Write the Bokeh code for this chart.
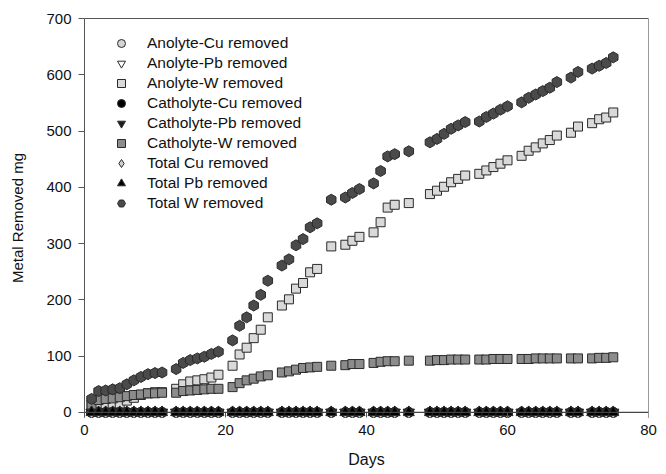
import math
from bokeh.plotting import figure
from bokeh.models import (ColumnDataSource, Range1d, FixedTicker, LinearAxis, Span,
                          Legend, LegendItem)
from bokeh.embed import file_html
from bokeh.resources import INLINE

# ---------------- data ----------------
days = [1, 2, 3, 4, 5, 6, 7, 8, 9, 10, 11,
        13, 14, 15, 16, 17, 18, 19,
        21, 22, 23, 24, 25, 26,
        28, 29, 30, 31, 32, 33,
        35,
        37, 38, 39,
        41, 42, 43, 44,
        46,
        49, 50, 51, 52, 53, 54,
        56, 57, 58, 59, 60,
        62, 63, 64, 65, 66, 67,
        69, 70,
        72, 73, 74, 75]

anolyte_w = [10, 16, 15, 16, 16, 21, 26, 31, 34, 36, 36,
             42, 50, 55, 57, 59, 62, 67,
             83, 103, 115, 132, 147, 169,
             190, 201, 220, 230, 249, 255,
             295,
             298, 305, 312,
             320, 338, 364, 369,
             372,
             388, 394, 401, 409, 415, 421,
             424, 430, 436, 442, 448,
             456, 465, 471, 478, 484, 492,
             497, 508,
             514, 521, 524, 533]

catholyte_w = [14, 22, 24, 25, 27, 29, 31, 32, 34, 34, 35,
               35, 38, 39, 40, 41, 42, 42,
               45, 52, 57, 60, 64, 66,
               71, 73, 76, 79, 80, 81,
               83,
               84, 86, 86,
               88, 90, 91, 91,
               92,
               92, 93, 93, 94, 94, 94,
               94, 94, 95, 95, 95,
               95, 95, 96, 96, 96, 96,
               96, 96,
               96, 97, 97, 98]

total_w = [24, 38, 39, 41, 43, 50, 57, 63, 68, 70, 71,
           77, 88, 93, 96, 99, 104, 108,
           128, 154, 169, 190, 209, 234,
           261, 272, 297, 308, 329, 336,
           378,
           382, 390, 397,
           407, 429, 455, 459,
           464,
           480, 486, 495, 504, 510, 516,
           517, 525, 531, 538, 544,
           551, 559, 565, 571, 577, 587,
           595, 605,
           611, 616, 621, 631]

# Cu and Pb removal stays at zero on every sampling day
zero_series = [0, 0, 0, 0, 0, 0, 0, 0, 0, 0, 0,
               0, 0, 0, 0, 0, 0, 0,
               0, 0, 0, 0, 0, 0,
               0, 0, 0, 0, 0, 0,
               0,
               0, 0, 0,
               0, 0, 0, 0,
               0,
               0, 0, 0, 0, 0, 0,
               0, 0, 0, 0, 0,
               0, 0, 0, 0, 0, 0,
               0, 0,
               0, 0, 0, 0]
anolyte_cu = list(zero_series)
anolyte_pb = list(zero_series)
catholyte_cu = list(zero_series)
catholyte_pb = list(zero_series)
total_cu = list(zero_series)
total_pb = list(zero_series)

x_ticks = [0, 20, 40, 60, 80]
y_ticks = [0, 100, 200, 300, 400, 500, 600, 700]

series = [
    ("Anolyte-Cu removed", anolyte_cu, "circle", "#d4d4d4", 10, 0.0),
    ("Anolyte-Pb removed", anolyte_pb, "inverted_triangle", "#ffffff", 11, 0.0),
    ("Anolyte-W removed", anolyte_w, "square", "#d9d9d9", 9, 0.0),
    ("Catholyte-Cu removed", catholyte_cu, "circle", "#000000", 10, 0.0),
    ("Catholyte-Pb removed", catholyte_pb, "inverted_triangle", "#1e1e1e", 11, 0.0),
    ("Catholyte-W removed", catholyte_w, "square", "#8c8c8c", 9, 0.0),
    ("Total Cu removed", total_cu, "diamond", "#d0d0d0", 13, 0.0),
    ("Total Pb removed", total_pb, "triangle", "#000000", 11, 0.0),
    ("Total W removed", total_w, "hex", "#4a4a4a", 11, math.pi / 2),
]

FONT = "Liberation Sans"

p = figure(width=666, height=474, output_backend="svg", toolbar_location=None,
           x_range=Range1d(0, 80), y_range=Range1d(-9, 700),
           min_border_left=84, min_border_right=18, min_border_top=18,
           min_border_bottom=57)
p.outline_line_color = None
p.xgrid.visible = False
p.ygrid.visible = False
p.background_fill_color = "white"
p.border_fill_color = "white"

items = []
for label, vals, marker, color, size, ang in series:
    src = ColumnDataSource(dict(x=days, y=vals))
    r = p.scatter("x", "y", source=src, marker=marker, size=size, angle=ang,
                  fill_color=color, line_color="#2a2a2a", line_width=1)
    items.append(LegendItem(label=label, renderers=[r]))

# zero baseline (x axis line at y = 0)
p.add_layout(Span(location=0, dimension="width", line_color="#444444", line_width=1.2))

# left axis
ya = p.yaxis[0]
ya.ticker = FixedTicker(ticks=y_ticks)
ya.axis_line_color = "#555555"
ya.major_tick_line_color = "#555555"
ya.major_tick_out = 6
ya.major_tick_in = 0
ya.minor_tick_line_color = None
ya.major_label_standoff = 7
ya.major_label_text_font = FONT
ya.major_label_text_font_size = "15px"
ya.major_label_text_color = "#111111"
ya.axis_label = "Metal Removed mg"
ya.axis_label_text_font = FONT
ya.axis_label_text_font_size = "15px"
ya.axis_label_text_font_style = "normal"
ya.axis_label_text_color = "#111111"
ya.axis_label_standoff = 17

# bottom axis
xa = p.xaxis[0]
xa.ticker = FixedTicker(ticks=x_ticks)
xa.axis_line_color = None
xa.major_tick_line_color = "#555555"
xa.major_tick_out = 0
xa.major_tick_in = 5
xa.minor_tick_line_color = None
xa.major_label_standoff = 7
xa.major_label_text_font = FONT
xa.major_label_text_font_size = "15px"
xa.major_label_text_color = "#111111"
xa.axis_label = "Days"
xa.axis_label_text_font = FONT
xa.axis_label_text_font_size = "16px"
xa.axis_label_text_font_style = "normal"
xa.axis_label_text_color = "#111111"
xa.axis_label_standoff = 13

# box lines on top and right
top_ax = LinearAxis(ticker=FixedTicker(ticks=[]), axis_line_color="#555555",
                    major_tick_line_color=None, minor_tick_line_color=None)
right_ax = LinearAxis(ticker=FixedTicker(ticks=[]), axis_line_color="#999999",
                      major_tick_line_color=None, minor_tick_line_color=None)
p.add_layout(top_ax, "above")
p.add_layout(right_ax, "right")

legend = Legend(items=items, location=(27, 204), margin=0, padding=0, spacing=0,
                glyph_width=20, glyph_height=20, label_height=20, label_standoff=16,
                label_text_font=FONT, label_text_font_size="15.5px",
                label_text_color="#111111",
                border_line_color=None, background_fill_alpha=0)
p.add_layout(legend, "center")

open("out.html", "w").write(file_html(p, INLINE))
